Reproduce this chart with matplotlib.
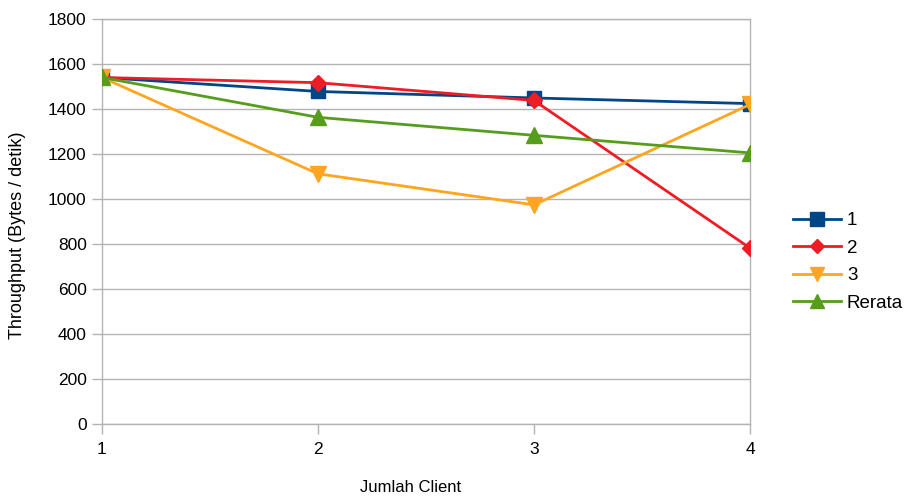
import matplotlib.pyplot as plt

plt.rcParams['font.family'] = ['Liberation Sans', 'DejaVu Sans']

clients = [1, 2, 3, 4]
seri_1 = [1540, 1478, 1449, 1424]
seri_2 = [1540, 1517, 1438, 782]
seri_3 = [1540, 1112, 974, 1420]
rerata = [1540, 1363, 1283, 1205]
labels = ['1', '2', '3', 'Rerata']
y_ticks = list(range(0, 1801, 200))

fig = plt.figure(figsize=(9.06, 4.99), dpi=100)
ax = fig.add_axes([102/906, 75/499, 648/906, 405/499])

grey = '#b3b3b3'
ax.plot(clients, seri_1, color='#004586', lw=2, marker='s', ms=10, label=labels[0], zorder=3)
ax.plot(clients, seri_2, color='#ee1c25', lw=2, marker='D', ms=8, label=labels[1], zorder=3)
ax.plot(clients, seri_3, color='#ffa51f', lw=2, marker='v', ms=11, label=labels[2], zorder=3)
ax.plot(clients, rerata, color='#579d1c', lw=2, marker='^', ms=11, label=labels[3], zorder=3)

ax.set_xlim(1, 4)
ax.set_ylim(0, 1800)
ax.set_xticks(clients)
ax.set_yticks(y_ticks)
ax.yaxis.grid(True, color=grey, lw=1)
ax.set_axisbelow(True)
for s in ax.spines.values():
    s.set_color(grey)
    s.set_linewidth(1)
ax.tick_params(axis='both', colors=grey, labelcolor='black', labelsize=12.5, length=7, width=1)
ax.tick_params(axis='y', pad=4)
ax.tick_params(axis='x', pad=6)

ax.set_xlabel('Jumlah Client', fontsize=12)
ax.set_ylabel('Throughput (Bytes / detik)', fontsize=13)
ax.yaxis.set_label_coords(18/906, 1 - 235/499, transform=fig.transFigure)
ax.xaxis.set_label_coords(411/906, 1 - 488/499, transform=fig.transFigure)
ax.xaxis.label.set_va('center')
ax.yaxis.label.set_va('center')

ax.legend(loc='center left', bbox_to_anchor=(785/906, 1 - 262/499), bbox_transform=fig.transFigure,
          frameon=False, fontsize=13.5, borderaxespad=0,
          handlelength=2.6, labelspacing=0.55, handletextpad=0.3, markerscale=0.95)

fig.savefig('out.png', dpi=100)
